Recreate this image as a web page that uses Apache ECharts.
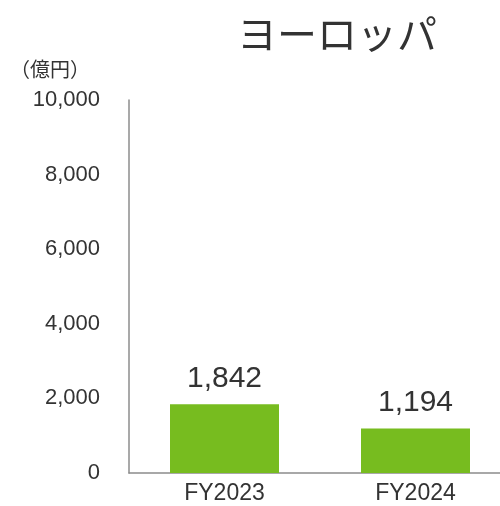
<!DOCTYPE html>
<html><head><meta charset="utf-8">
<script src="https://cdn.jsdelivr.net/npm/echarts@6/dist/echarts.min.js"></script>
<style>html,body{margin:0;padding:0;background:#fff;overflow:hidden}#c{width:520px;height:506px}</style>
</head><body><div id="c"></div>
<script>
var titleText = 'ヨーロッパ';
var unitText = '（億円）';
var categories = ['FY2023', 'FY2024'];
var values = [1842, 1194];
var yTicks = [0, 2000, 4000, 6000, 8000, 10000];

var chart = echarts.init(document.getElementById('c'), null, {renderer: 'canvas'});
var font = '"Liberation Sans", Arial, "Noto Sans CJK JP", sans-serif';
chart.setOption({
  animation: false,
  textStyle: {fontFamily: font},
  title: [{
    text: titleText, left: 332, top: 9, textAlign: 'center',
    textStyle: {fontSize: 40, fontWeight: 'normal', color: '#333', fontFamily: '"Noto Sans CJK JP", sans-serif'}
  }, {
    text: unitText, left: 5, top: 54,
    textStyle: {fontSize: 20, fontWeight: 'normal', color: '#333', fontFamily: '"Noto Sans CJK JP", sans-serif'}
  }],
  grid: {left: 129, right: 9, top: 100, bottom: 33},
  xAxis: {
    type: 'category', data: categories,
    axisLine: {lineStyle: {color: '#8c8c8c', width: 1.5}},
    axisTick: {show: false},
    axisLabel: {fontSize: 23, color: '#333', margin: 9}
  },
  yAxis: {
    type: 'value', min: yTicks[0], max: yTicks[yTicks.length - 1], interval: yTicks[1] - yTicks[0],
    axisLine: {show: true, lineStyle: {color: '#8c8c8c', width: 1.5}},
    axisTick: {show: false},
    splitLine: {show: false},
    axisLabel: {fontSize: 22, color: '#333', margin: 29,
      formatter: function (v) { return v.toLocaleString('en-US'); }}
  },
  series: [{
    type: 'bar', data: values, barWidth: 109,
    itemStyle: {color: '#77bc1f'},
    label: {show: true, position: 'top', distance: 11, fontSize: 30, color: '#333',
      formatter: function (p) { return p.value.toLocaleString('en-US'); }}
  }]
});
</script></body></html>
